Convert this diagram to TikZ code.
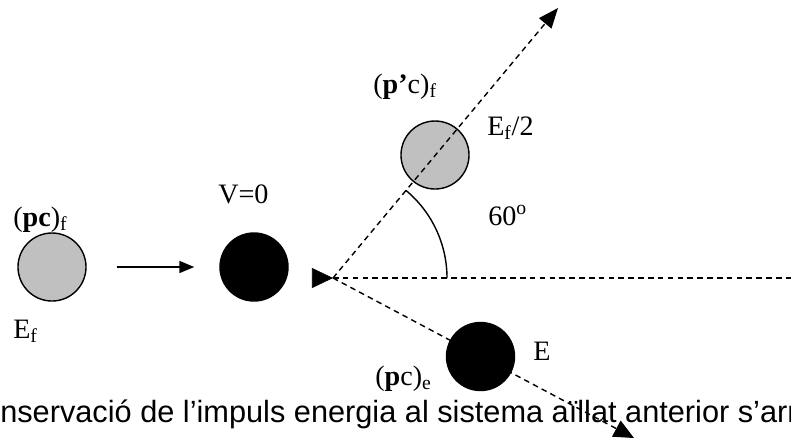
\documentclass[tikz,border=0pt]{standalone}
\usepackage{fontspec}
\setmainfont{Liberation Serif}
\newfontfamily\captionfont{Liberation Sans}
\usetikzlibrary{arrows.meta}
\definecolor{ballgray}{RGB}{192,192,192}

\begin{document}
\begin{tikzpicture}[x=0.025cm,y=-0.025cm,
    ball/.style={circle,draw,line width=1pt,minimum size=1.7cm,inner sep=0pt},
    lbl/.style={anchor=base west,inner sep=0pt,font=\fontsize{20}{24}\selectfont},
    track/.style={line width=1pt,dash pattern=on 4pt off 3pt}]
    \useasboundingbox (0,0) rectangle (791,437);
    \clip (0,0) rectangle (791,437);
    \node[ball,fill=ballgray] (inc) at (52,267) {};
    \node[ball,fill=black] (targ) at (254,267) {};
    \node[ball,fill=ballgray] (up) at (435,155) {};
    \draw[-{Triangle[length=0.375cm,width=0.3cm]},line width=1.2pt,shorten <=0.75cm,shorten >=0.625cm] (inc)--(targ);
    \coordinate (o) at (333,278);
    \coordinate (back) at (312,278);
    \coordinate (far) at (800,278);
    \coordinate (tipu) at (558,8);
    \coordinate (tipl) at (634,438);
    \draw[track] (o)--(far);
    \draw[track,-{Triangle[length=0.5cm,width=0.4cm]}] (o)--(tipu);
    \draw[track,-{Triangle[length=0.5cm,width=0.45cm]}] (o)--(tipl);
    \draw[-{Triangle[length=0.525cm,width=0.5cm]}] (back)--(o);
    \node[ball,fill=black] (hit) at (480.5,356.5) {};
    \draw[line width=1pt] (o) ++(114,0) arc[start angle=0,end angle=50.2,radius=2.85cm];
    \node[lbl] (pcf) at (13,226) {(\textbf{pc})\textsubscript{f}};
    \node[lbl] (ef) at (13,338) {E\textsubscript{f}};
    \node[lbl] (vzero) at (218,203) {V=0};
    \node[lbl] (ppcf) at (373,93) {(\textbf{p’}c)\textsubscript{f}};
    \node[lbl] (ehalf) at (487,135) {E\textsubscript{f}/2};
    \node[lbl] (angle) at (488,225) {60\textsuperscript{o}};
    \node[lbl] (ehit) at (533,360) {E};
    \node[lbl] (pce) at (375,385) {(\textbf{p}c)\textsubscript{e}};
    \node[anchor=base west,inner sep=0pt,font=\captionfont\fontsize{21.85}{26}\selectfont] (cap) at (0,422) {nservació de l’impuls energia al sistema aïllat anterior s’arr};
  \end{tikzpicture}
\end{document}
